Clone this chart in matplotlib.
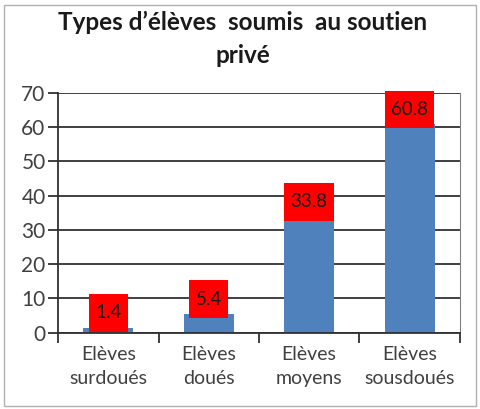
import matplotlib
matplotlib.use("Agg")
import matplotlib.pyplot as plt
from matplotlib.patches import Rectangle
from matplotlib.path import Path
import numpy as np

categories = ["Elèves\nsurdoués", "Elèves\ndoués", "Elèves\nmoyens", "Elèves\nsousdoués"]
values = [1.4, 5.4, 33.8, 60.8]
yticks = [0, 10, 20, 30, 40, 50, 60, 70]
title = "Types d’élèves  soumis  au soutien\nprivé"

plt.rcParams['font.family'] = ['Lato', 'DejaVu Sans']


def label_box(x0, y0, width, height, mutation_size):
    px = 0.33 * mutation_size
    py = 0.55 * mutation_size
    x0, y0 = x0 - px, y0 - py
    x1, y1 = x0 + width + 2 * px, y0 + height + 2 * py
    return Path([(x0, y0), (x1, y0), (x1, y1), (x0, y1), (x0, y0)], closed=True)


fig = plt.figure(figsize=(4.8, 4.09), dpi=100)
fig.patches.append(Rectangle((0.008, 0.008), 0.984, 0.98, transform=fig.transFigure,
                             fill=False, edgecolor="#b0b0b0", linewidth=1.0))
ax = fig.add_axes([0.121, 0.187, 0.837, 0.586])

x = np.arange(len(values))
ax.bar(x, values, width=0.5, color="#4F81BD", zorder=2)
for xi, v in zip(x, values):
    ax.annotate(f"{v}", (xi, v), xytext=(0, 15), textcoords="offset pixels",
                ha="center", va="center", fontsize=13.5, color="#1a1a1a", zorder=3,
                bbox=dict(boxstyle=label_box, facecolor="#FF0000", edgecolor="none"),
                annotation_clip=False)

ax.set_xlim(-0.5, len(values) - 0.5)
ax.set_ylim(0, 70)
ax.set_yticks(yticks)
ax.set_yticklabels([str(t) for t in yticks], fontsize=15, color="#404040")
ax.yaxis.grid(True, color="#303030", linewidth=1.3, zorder=0)
ax.set_axisbelow(True)

ax.set_xticks(x)
ax.set_xticklabels(categories, fontsize=14, color="#404040", linespacing=1.5)
ax.set_xticks(np.arange(-0.5, len(values)), minor=True)
ax.tick_params(axis="x", which="major", length=0, pad=10)
ax.tick_params(axis="x", which="minor", length=7, width=1.3, color="#303030", direction="out")
ax.tick_params(axis="y", length=7, width=1.3, color="#303030", pad=2)

for s in ["left", "bottom"]:
    ax.spines[s].set_color("#303030")
    ax.spines[s].set_linewidth(1.3)
ax.spines["top"].set_visible(False)
ax.spines["right"].set_color("#808080")

fig.text(0.505, 0.905, title, ha="center", va="center", fontsize=17.5, fontweight="bold",
         color="#1a1a1a", linespacing=1.5)

fig.savefig("out.png", dpi=100)
